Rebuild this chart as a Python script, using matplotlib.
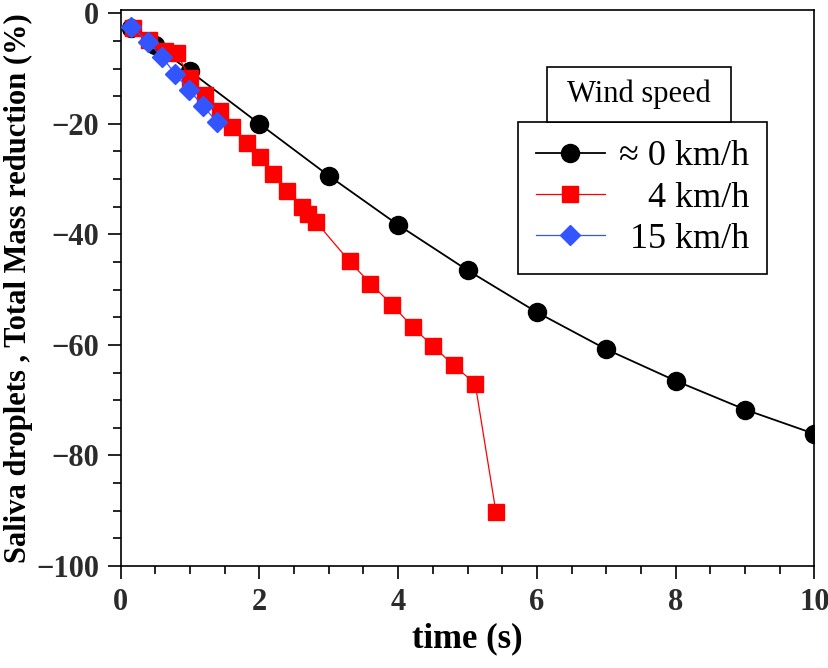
import matplotlib
matplotlib.use('Agg')
import matplotlib.pyplot as plt
import matplotlib.patches as patches
from matplotlib.ticker import MultipleLocator

# --- Data ---
t_calm = [0.15, 0.5, 1.0, 2, 3, 4, 5, 6, 7, 8, 9, 10]
m_calm = [-2.6, -5.8, -10.5, -20.0, -29.4, -38.3, -46.5, -54.1, -60.8, -66.5, -71.7, -76.1]

t_4kmh = [0.18, 0.41, 0.64, 0.81, 1.0, 1.22, 1.43, 1.6, 1.82, 2.01, 2.2, 2.4,
          2.61, 2.7, 2.82, 3.3, 3.6, 3.91, 4.21, 4.5, 4.8, 5.11, 5.41]
m_4kmh = [-2.6, -4.9, -6.9, -7.2, -11.8, -14.8, -17.6, -20.6, -23.4, -26.0, -29.1, -32.2,
          -35.1, -36.3, -37.8, -44.9, -48.9, -52.7, -56.8, -60.2, -63.7, -67.0, -90.3]

t_15kmh = [0.15, 0.4, 0.6, 0.79, 0.99, 1.19, 1.39]
m_15kmh = [-2.4, -5.2, -8.0, -11.0, -13.9, -16.8, -19.7]

labels = ["\u2248 0 km/h", "4 km/h", "15 km/h"]
legend_title = "Wind speed"

SERIF = ['Liberation Serif', 'DejaVu Serif']
TICK_COLOR = '#2b2b2b'
BLUE = '#3355ff'

fig = plt.figure(figsize=(8.29, 6.68), dpi=100)
ax = fig.add_axes([0.1455, 0.1527, 0.8370, 0.8316])

ax.plot(t_calm, m_calm, '-o', color='black', lw=1.3, ms=13, label=labels[0], zorder=3)
ax.plot(t_4kmh, m_4kmh, '-s', color='#ff0000', lw=0.9, ms=12, label=labels[1], zorder=4)
ax.plot(t_15kmh, m_15kmh, '-D', color=BLUE, lw=0.9, ms=10, label=labels[2], zorder=5)

ax.set_xlim(0, 10)
ax.set_ylim(-100, 0.5)
ax.xaxis.set_major_locator(MultipleLocator(2))
ax.xaxis.set_minor_locator(MultipleLocator(0.5))
ax.yaxis.set_major_locator(MultipleLocator(20))
ax.yaxis.set_minor_locator(MultipleLocator(5))

ax.tick_params(which='both', direction='out', width=1.2, colors='black',
               labelcolor=TICK_COLOR, top=False, right=False)
ax.tick_params(which='major', length=9.5, labelsize=22, pad=6)
ax.tick_params(which='minor', length=6)
for lab in ax.get_xticklabels() + ax.get_yticklabels():
    lab.set_fontfamily(SERIF)
    lab.set_fontweight('bold')
for sp in ax.spines.values():
    sp.set_linewidth(1.2)

ax.set_xlabel('time (s)', family=SERIF, fontweight='bold', fontsize=25, labelpad=4)
ax.set_ylabel('Saliva droplets , Total Mass reduction (%)', family=SERIF,
              fontweight='bold', fontsize=22, labelpad=2)

leg = ax.legend(loc='upper right', bbox_to_anchor=(0.932, 0.799), borderaxespad=0,
                prop={'family': SERIF, 'size': 26}, frameon=True, fancybox=False,
                edgecolor='black', framealpha=1, handlelength=1.9,
                handletextpad=0.4, labelspacing=0.22, borderpad=0.5)
leg.get_frame().set_linewidth(1.2)

# right-align the legend labels like the original
fig.canvas.draw()
renderer = fig.canvas.get_renderer()
texts = leg.get_texts()
widths = [t.get_window_extent(renderer).width for t in texts]
for t, w in zip(texts, widths):
    t.set_x(max(widths) - w)

# title box sitting on top of the legend
rect = patches.Rectangle((0.615, 0.799), 0.265, 0.099, transform=ax.transAxes,
                         facecolor='white', edgecolor='black', lw=1.2, zorder=10)
ax.add_patch(rect)
ax.text(0.615 + 0.265 / 2, 0.799 + 0.099 / 2, legend_title, transform=ax.transAxes,
        ha='center', va='center', family=SERIF, fontsize=22, zorder=11)

fig.savefig('out.png', dpi=100)
